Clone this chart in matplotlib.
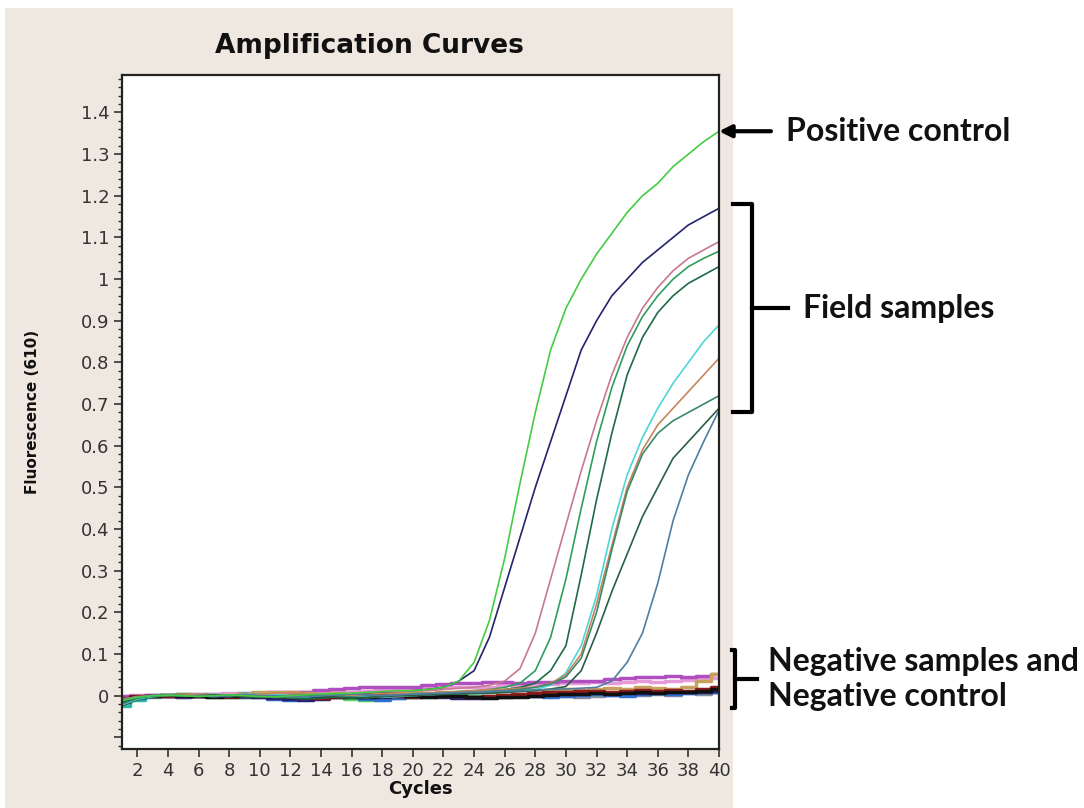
import matplotlib
matplotlib.use('Agg')
import matplotlib.pyplot as plt
from matplotlib.patches import Rectangle
from matplotlib.ticker import MultipleLocator, FuncFormatter
from matplotlib.transforms import blended_transform_factory

cycles = list(range(1, 41))

# amplified curves (cycles 1..40)
positive_control = [
    -0.012, -0.004, 0.000, 0.001, 0.000, -0.002, 0.000, 0.002, 0.000, -0.002,
    -0.003, 0.000, 0.002, 0.004, 0.005, 0.006, 0.008, 0.010, 0.012, 0.012,
    0.015, 0.020, 0.035, 0.080, 0.180, 0.330, 0.510, 0.680, 0.830, 0.930,
    1.000, 1.060, 1.110, 1.160, 1.200, 1.230, 1.270, 1.300, 1.330, 1.355]
navy = [
    -0.008, -0.003, 0.000, 0.000, 0.002, 0.000, -0.003, -0.002, 0.000, 0.002,
    0.000, -0.004, -0.006, -0.004, 0.000, 0.004, 0.006, 0.008, 0.010, 0.012,
    0.015, 0.020, 0.035, 0.060, 0.140, 0.260, 0.380, 0.500, 0.610, 0.720,
    0.830, 0.900, 0.960, 1.000, 1.040, 1.070, 1.100, 1.130, 1.150, 1.170]
pink = [
    -0.010, -0.004, 0.000, 0.002, 0.000, 0.000, 0.003, 0.000, -0.002, 0.000,
    0.002, 0.004, 0.002, 0.000, 0.003, 0.005, 0.008, 0.010, 0.010, 0.012,
    0.012, 0.015, 0.018, 0.020, 0.025, 0.035, 0.065, 0.150, 0.280, 0.410,
    0.540, 0.660, 0.770, 0.860, 0.930, 0.980, 1.020, 1.050, 1.070, 1.090]
green_a = [
    -0.020, -0.008, -0.002, 0.000, 0.003, 0.000, -0.002, 0.000, 0.002, 0.000,
    -0.003, -0.005, -0.004, 0.000, 0.002, 0.000, -0.002, 0.000, 0.003, 0.005,
    0.006, 0.008, 0.010, 0.012, 0.015, 0.020, 0.030, 0.060, 0.140, 0.280,
    0.450, 0.610, 0.740, 0.840, 0.910, 0.960, 1.000, 1.030, 1.050, 1.067]
green_b = [
    -0.025, -0.010, -0.004, 0.000, 0.000, 0.002, 0.000, -0.003, 0.000, 0.000,
    -0.004, -0.006, -0.008, -0.006, -0.003, 0.000, 0.000, -0.002, 0.000, 0.002,
    0.004, 0.005, 0.006, 0.008, 0.010, 0.015, 0.020, 0.030, 0.060, 0.120,
    0.290, 0.470, 0.630, 0.770, 0.860, 0.920, 0.960, 0.990, 1.010, 1.030]
cyan = [
    -0.022, -0.008, -0.002, 0.002, 0.000, 0.004, 0.003, 0.000, 0.002, 0.004,
    0.003, 0.000, -0.002, 0.000, 0.002, 0.000, -0.002, -0.004, -0.002, 0.000,
    0.002, 0.004, 0.005, 0.006, 0.008, 0.010, 0.012, 0.015, 0.025, 0.055,
    0.120, 0.240, 0.400, 0.530, 0.620, 0.690, 0.750, 0.800, 0.850, 0.890]
orange = [
    -0.008, -0.002, 0.000, 0.000, 0.002, 0.004, 0.002, 0.000, 0.000, 0.003,
    0.006, 0.008, 0.006, 0.004, 0.002, 0.000, 0.003, 0.005, 0.006, 0.004,
    0.006, 0.008, 0.010, 0.012, 0.015, 0.015, 0.018, 0.020, 0.030, 0.050,
    0.100, 0.220, 0.360, 0.500, 0.590, 0.650, 0.690, 0.730, 0.770, 0.810]
green_c = [
    -0.020, -0.006, 0.000, 0.002, 0.000, -0.002, 0.000, 0.002, 0.000, -0.002,
    -0.004, -0.002, 0.000, 0.002, 0.000, -0.003, -0.005, -0.003, 0.000, 0.002,
    0.004, 0.005, 0.006, 0.008, 0.010, 0.012, 0.015, 0.020, 0.028, 0.045,
    0.090, 0.200, 0.350, 0.490, 0.580, 0.630, 0.660, 0.680, 0.700, 0.720]
green_d = [
    -0.015, -0.005, 0.000, 0.000, -0.002, 0.000, 0.002, 0.000, -0.003, -0.004,
    -0.002, 0.000, 0.002, 0.000, -0.004, -0.006, -0.004, -0.002, 0.000, 0.000,
    0.002, 0.003, 0.004, 0.005, 0.006, 0.008, 0.010, 0.012, 0.016, 0.022,
    0.060, 0.150, 0.250, 0.340, 0.430, 0.500, 0.570, 0.610, 0.650, 0.690]
steel = [
    -0.010, -0.004, 0.000, 0.002, 0.000, 0.000, -0.002, 0.000, 0.003, 0.000,
    0.000, -0.003, -0.002, 0.000, 0.002, 0.004, 0.002, 0.000, 0.002, 0.004,
    0.005, 0.006, 0.008, 0.008, 0.010, 0.012, 0.012, 0.014, 0.015, 0.016,
    0.018, 0.020, 0.035, 0.080, 0.150, 0.270, 0.420, 0.530, 0.610, 0.685]

# negative samples / negative control
neg_purple = [
    0.000, 0.000, 0.002, 0.000, 0.000, 0.003, 0.002, 0.000, 0.004, 0.006,
    0.008, 0.008, 0.010, 0.014, 0.016, 0.018, 0.020, 0.022, 0.020, 0.022,
    0.025, 0.028, 0.030, 0.030, 0.032, 0.032, 0.030, 0.032, 0.034, 0.035,
    0.036, 0.036, 0.040, 0.042, 0.045, 0.046, 0.048, 0.046, 0.048, 0.052]
neg_pink = [
    0.000, 0.002, 0.000, 0.000, 0.002, 0.000, 0.004, 0.006, 0.004, 0.002,
    0.004, 0.006, 0.008, 0.010, 0.012, 0.010, 0.012, 0.015, 0.016, 0.015,
    0.018, 0.020, 0.022, 0.020, 0.022, 0.025, 0.024, 0.025, 0.028, 0.030,
    0.030, 0.032, 0.030, 0.032, 0.035, 0.034, 0.036, 0.038, 0.040, 0.042]
neg_black = [
    -0.010, -0.002, 0.000, 0.002, 0.000, 0.000, -0.002, 0.000, 0.000, 0.002,
    0.000, -0.003, -0.002, 0.000, 0.000, -0.004, -0.002, 0.000, 0.002, 0.000,
    -0.002, 0.000, 0.000, -0.003, -0.005, -0.004, -0.002, 0.000, 0.002, 0.004,
    0.005, 0.006, 0.005, 0.006, 0.008, 0.006, 0.010, 0.008, 0.012, 0.016]
neg_darkred = [
    -0.006, 0.000, 0.000, 0.000, 0.002, 0.000, 0.000, -0.003, 0.000, 0.002,
    0.000, 0.000, -0.004, -0.005, -0.002, 0.000, 0.000, 0.002, 0.000, -0.002,
    0.000, 0.000, 0.000, -0.002, 0.000, 0.002, 0.004, 0.006, 0.008, 0.010,
    0.012, 0.012, 0.010, 0.012, 0.014, 0.012, 0.014, 0.012, 0.015, 0.020]
neg_navy = [
    -0.012, -0.004, 0.000, 0.000, -0.002, 0.000, 0.000, 0.002, 0.000, -0.003,
    -0.006, -0.008, -0.010, -0.008, -0.004, 0.000, -0.002, -0.004, 0.000, 0.002,
    0.000, -0.004, -0.006, -0.006, -0.004, -0.002, 0.000, 0.002, 0.004, 0.004,
    0.006, 0.008, 0.006, 0.008, 0.006, 0.008, 0.010, 0.008, 0.010, 0.012]
neg_blue = [
    -0.015, -0.006, 0.000, 0.002, 0.000, 0.000, 0.002, 0.000, -0.002, -0.004,
    -0.008, -0.010, -0.006, -0.002, 0.000, -0.004, -0.008, -0.010, -0.006, -0.002,
    0.000, 0.002, 0.000, -0.003, -0.002, 0.000, 0.002, 0.000, -0.002, 0.000,
    0.002, 0.004, 0.002, 0.000, 0.004, 0.006, 0.004, 0.006, 0.008, 0.010]
neg_teal = [
    -0.025, -0.010, -0.004, 0.000, 0.004, 0.002, 0.000, 0.002, 0.006, 0.004,
    0.000, -0.002, 0.000, 0.004, 0.002, -0.002, -0.004, -0.006, -0.002, 0.000,
    0.002, 0.000, -0.002, -0.002, 0.000, 0.002, 0.000, 0.002, 0.004, 0.002,
    0.004, 0.006, 0.004, 0.006, 0.008, 0.006, 0.006, 0.008, 0.010, 0.010]
neg_lime = [
    -0.010, -0.003, 0.000, 0.000, 0.002, 0.000, -0.002, -0.004, -0.002, 0.000,
    0.002, 0.004, 0.002, -0.002, -0.004, -0.008, -0.010, -0.008, -0.006, -0.004,
    -0.002, 0.000, 0.002, 0.000, -0.002, 0.000, 0.002, 0.004, 0.002, 0.004,
    0.006, 0.004, 0.006, 0.008, 0.006, 0.008, 0.010, 0.008, 0.010, 0.012]
neg_tan = [
    -0.008, -0.002, 0.000, 0.002, 0.004, 0.002, 0.000, 0.002, 0.004, 0.008,
    0.010, 0.008, 0.006, 0.004, 0.006, 0.004, 0.002, 0.004, 0.006, 0.008,
    0.006, 0.008, 0.010, 0.012, 0.010, 0.012, 0.014, 0.012, 0.014, 0.016,
    0.014, 0.016, 0.018, 0.016, 0.020, 0.018, 0.016, 0.022, 0.035, 0.052]
neg_grey = [
    -0.005, 0.000, 0.002, 0.000, 0.000, 0.002, 0.004, 0.002, 0.000, 0.000,
    0.002, 0.000, -0.002, 0.000, 0.004, 0.008, 0.006, 0.004, 0.006, 0.004,
    0.002, 0.004, 0.002, 0.000, -0.002, 0.000, 0.002, 0.000, 0.002, 0.000,
    -0.002, 0.000, 0.002, 0.004, 0.002, 0.004, 0.002, 0.006, 0.004, 0.008]

field_samples = [navy, pink, green_a, green_b, cyan, orange, green_c, green_d, steel]
field_colors = ['#23236e', '#c87890', '#2e9e5e', '#1f6b45', '#4dd6d6',
                '#c8845a', '#3a8a6a', '#2a5e48', '#4f7fa0']
negatives = [neg_grey, neg_teal, neg_lime, neg_blue, neg_navy, neg_pink,
             neg_purple, neg_tan, neg_darkred, neg_black]
neg_colors = ['#8a8aa0', '#30b8a8', '#56d856', '#2f6fd0', '#2a2070', '#e69ad8',
              '#b050c0', '#c8a060', '#8a1c1c', '#101010']

fig = plt.figure(figsize=(10.84, 8.08), dpi=100, facecolor='white')
panel = Rectangle((5 / 1084, 0), 728 / 1084, 800 / 808, transform=fig.transFigure,
                  facecolor='#eee8e0', edgecolor='none', zorder=-10)
fig.add_artist(panel)

ax = fig.add_axes([122 / 1084, 1 - 749 / 808, 597 / 1084, 674 / 808])
ax.set_facecolor('white')

for vals, col in zip(negatives, neg_colors):
    ax.plot(cycles, vals, color=col, lw=2.5, drawstyle='steps-mid')
for vals, col in zip(field_samples, field_colors):
    ax.plot(cycles, vals, color=col, lw=1.2)
ax.plot(cycles, positive_control, color='#44cc44', lw=1.2)

ax.set_xlim(1, 40)
ax.set_ylim(-0.128, 1.49)
ax.set_xticks(range(2, 41, 2))
ax.yaxis.set_major_locator(MultipleLocator(0.1))
ax.yaxis.set_minor_locator(MultipleLocator(0.02))
ax.yaxis.set_major_formatter(FuncFormatter(lambda v, p: '%g' % round(v, 2) if v > -0.01 else ''))
ax.tick_params(axis='both', which='major', direction='out', length=6, width=1.2,
               colors='#333333', labelsize=13, pad=3)
ax.tick_params(axis='y', which='minor', direction='out', length=3, width=1.0,
               colors='#333333')
for s in ax.spines.values():
    s.set_linewidth(1.6)
    s.set_color('#222222')

ax.set_ylabel('Fluorescence (610)', fontsize=11, fontweight='bold', color='#111111')
ax.yaxis.set_label_coords(-0.137, 0.5)
ax.set_xlabel('Cycles', fontsize=13, fontweight='bold', color='#111111')
ax.xaxis.set_label_coords(0.5, -0.046)

fig.text(369 / 1084, 1 - 46 / 808, 'Amplification Curves', ha='center', va='center',
         fontsize=19, fontweight='bold', color='#111111')

# annotations on the right
tr = blended_transform_factory(ax.transAxes, ax.transData)
afont = dict(family=['Lato', 'DejaVu Sans'], fontweight='bold', fontsize=23, color='#111111')

ax.annotate('', xy=(cycles[-1], positive_control[-1]), xycoords='data',
            xytext=(1.087, positive_control[-1]), textcoords=tr,
            arrowprops=dict(arrowstyle='-|>', color='black', lw=3, mutation_scale=18,
                            shrinkA=0, shrinkB=0))
ax.text(1.112, positive_control[-1], 'Positive control', transform=tr,
        ha='left', va='center', **afont)

ends = [v[-1] for v in field_samples]
top, bot = max(ends) + 0.01, min(ends) - 0.005
mid = (top + bot) / 2
ax.plot([1.0235, 1.0553, 1.0553, 1.0235], [top, top, bot, bot], transform=tr,
        color='black', lw=3, clip_on=False, solid_joinstyle='round')
ax.plot([1.0553, 1.1156], [mid, mid], transform=tr, color='black', lw=3, clip_on=False)
ax.text(1.1407, mid, 'Field samples', transform=tr, ha='left', va='center', **afont)

ntop, nbot = 0.11, -0.03
nmid = (ntop + nbot) / 2
ax.plot([1.022, 1.027, 1.027, 1.022], [ntop, ntop, nbot, nbot], transform=tr,
        color='black', lw=3, clip_on=False)
ax.plot([1.027, 1.0637], [nmid, nmid], transform=tr, color='black', lw=3, clip_on=False)
ax.text(1.082, nmid, 'Negative samples and\nNegative control', transform=tr,
        ha='left', va='center', linespacing=1.25, **afont)

fig.savefig('out.png', dpi=100, facecolor='white')
